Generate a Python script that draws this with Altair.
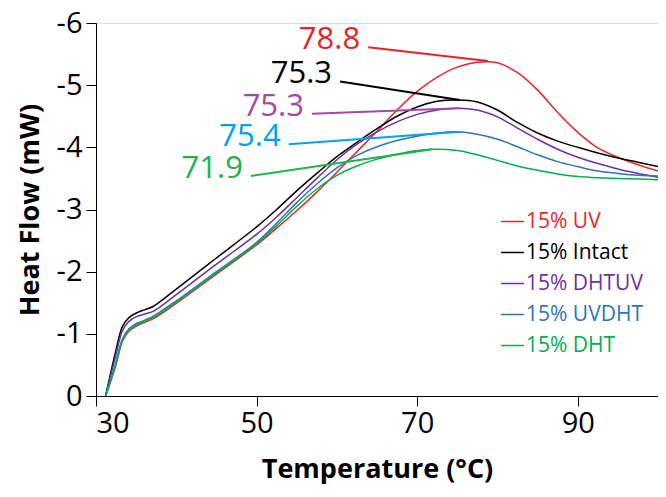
import altair as alt
import pandas as pd

# ---- data ----
series = ["15% UV", "15% Intact", "15% DHTUV", "15% UVDHT", "15% DHT"]
curve_colors = ["#E8262B", "#000000", "#7030A0", "#2E75B6", "#00B050"]
label_colors = ["#E3242B", "#000000", "#A349A4", "#00A2E8", "#22B14C"]

temps = [31.2, 32.4, 33.3, 34.1, 35.1, 36.1, 37.1, 40, 45, 50, 52.5, 55, 57.5, 60, 62.5,
         65, 67.5, 70, 72.5, 75, 77.5, 80, 82.5, 85, 87.5, 90, 92.5, 95, 97.5, 100]

uv = [0, -0.46, -0.88, -1.04, -1.13, -1.19, -1.24, -1.49, -1.96, -2.43, -2.70, -2.98, -3.28,
      -3.60, -3.93, -4.26, -4.60, -4.90, -5.13, -5.29, -5.37, -5.36, -5.20, -4.92, -4.56,
      -4.24, -3.99, -3.84, -3.72, -3.62]
intact = [0, -0.69, -1.12, -1.26, -1.34, -1.39, -1.44, -1.72, -2.22, -2.72, -3.00, -3.30, -3.58,
          -3.85, -4.08, -4.30, -4.50, -4.65, -4.74, -4.76, -4.73, -4.60, -4.40, -4.23, -4.10,
          -4.00, -3.91, -3.83, -3.76, -3.69]
dhtuv = [0, -0.62, -1.05, -1.20, -1.28, -1.32, -1.36, -1.63, -2.12, -2.60, -2.88, -3.19, -3.50,
         -3.80, -4.05, -4.25, -4.41, -4.53, -4.60, -4.63, -4.60, -4.49, -4.31, -4.13, -3.97,
         -3.84, -3.74, -3.65, -3.58, -3.52]
uvdht = [0, -0.50, -0.92, -1.08, -1.17, -1.22, -1.28, -1.53, -2.00, -2.47, -2.78, -3.11, -3.41,
         -3.67, -3.87, -4.01, -4.11, -4.18, -4.23, -4.25, -4.21, -4.13, -4.01, -3.88, -3.77,
         -3.69, -3.62, -3.58, -3.55, -3.54]
dht = [0, -0.48, -0.90, -1.06, -1.15, -1.21, -1.26, -1.51, -1.98, -2.45, -2.74, -3.05, -3.33,
       -3.55, -3.70, -3.81, -3.89, -3.95, -3.97, -3.95, -3.88, -3.79, -3.70, -3.63, -3.57,
       -3.53, -3.51, -3.50, -3.49, -3.48]

# peak annotations
ann_text = ["78.8", "75.3", "75.3", "75.4", "71.9"]
peak_x = [78.8, 75.3, 75.3, 75.4, 71.9]
peak_y = [-5.39, -4.76, -4.63, -4.25, -3.97]
label_x = [63.9, 60.4, 56.9, 54.0, 49.3]
label_y = [-5.61, -5.06, -4.54, -4.05, -3.54]

y_ticks = [-6, -5, -4, -3, -2, -1, 0]
x_ticks = [30, 50, 70, 90]

# ---- tables ----
rows = []
for name, vals in zip(series, [uv, intact, dhtuv, uvdht, dht]):
    for t, v in zip(temps, vals):
        rows.append({"series": name, "T": t, "HF": v})
df = pd.DataFrame(rows)

ann = pd.DataFrame({
    "series": series, "text": ann_text, "px": peak_x, "py": peak_y,
    "lx": label_x, "ly": label_y, "col": label_colors,
})

FONT = "Open Sans"

xscale = alt.Scale(domain=[30, 100], nice=False, zero=False)
yscale = alt.Scale(domain=[-6, 0], reverse=True, nice=False)

label_expr = " : ".join(
    [f"datum.value == '{s}' ? '{c}'" for s, c in zip(series, curve_colors)]
) + " : 'black'"

lines = alt.Chart(df).mark_line(strokeWidth=1.5, interpolate="catmull-rom").encode(
    x=alt.X("T:Q", scale=xscale, title="Temperature (°C)",
            axis=alt.Axis(values=x_ticks, grid=False, domainColor="black",
                          tickColor="black", tickSize=10, labelFontSize=29,
                          labelColor="black", labelFont=FONT, labelPadding=3,
                          titleFont=FONT, titleFontSize=27, titleFontWeight="bold",
                          titleColor="black", titlePadding=18)),
    y=alt.Y("HF:Q", scale=yscale, title="Heat Flow (mW)",
            axis=alt.Axis(values=y_ticks, grid=False, domainColor="black",
                          tickColor="black", tickSize=10, labelFontSize=29,
                          labelColor="black", labelFont=FONT, labelPadding=4,
                          labelExpr="datum.value == 0 ? '0' : '-' + abs(datum.value)",
                          titleFont=FONT, titleFontSize=27, titleFontWeight="bold",
                          titleColor="black", titlePadding=12)),
    color=alt.Color("series:N",
                    scale=alt.Scale(domain=series, range=curve_colors),
                    legend=alt.Legend(title=None, orient="none", legendX=404, legendY=186,
                                      symbolType="stroke", symbolSize=520,
                                      symbolStrokeWidth=1.5, labelFontSize=21,
                                      labelFont=FONT, labelOffset=1, rowPadding=8,
                                      labelColor=alt.ExprRef(label_expr))),
    detail="series:N",
)

leaders = alt.Chart(ann).mark_rule(strokeWidth=2).encode(
    x=alt.X("lx:Q", scale=xscale),
    y=alt.Y("ly:Q", scale=yscale),
    x2="px:Q",
    y2="py:Q",
    color=alt.Color("col:N", scale=None),
)

labels = alt.Chart(ann).mark_text(align="right", baseline="alphabetic", dx=-8, dy=2,
                                  fontSize=31, font=FONT).encode(
    x=alt.X("lx:Q", scale=xscale),
    y=alt.Y("ly:Q", scale=yscale),
    text="text:N",
    color=alt.Color("col:N", scale=None),
)

chart = alt.layer(lines, leaders, labels).properties(
    width=562, height=373,
    autosize=alt.AutoSizeParams(type="none"),
    padding={"left": 88, "top": 15, "right": 0, "bottom": 92},
).configure_view(stroke=None).configure(background="white")

chart.save("out.html", embed_options={"renderer": "svg", "actions": False})
